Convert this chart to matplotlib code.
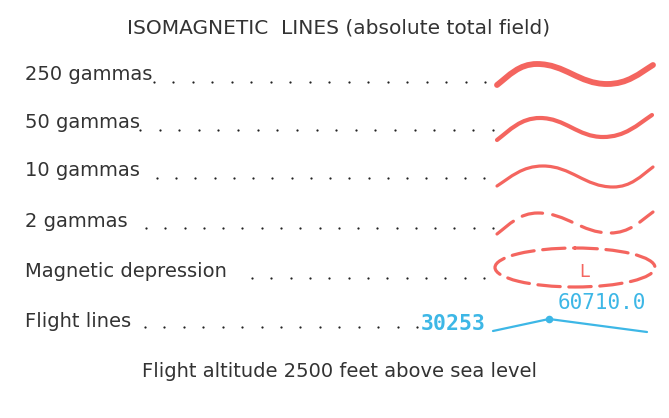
import matplotlib
matplotlib.use("Agg")
import matplotlib.pyplot as plt
import numpy as np
from matplotlib.path import Path
from matplotlib.patches import PathPatch, Ellipse

# ---- content ----
title = "ISOMAGNETIC  LINES (absolute total field)"
footer = "Flight altitude 2500 feet above sea level"
labels = ["250 gammas", "50 gammas", "10 gammas", "2 gammas",
          "Magnetic depression", "Flight lines"]
label_baselines = [80, 128, 176, 227, 277, 327]
dot_start = [154, 140, 157, 146, 252, 145]
dot_end = [485, 493, 484, 493, 484, 417]
dot_y = [82, 130, 178, 228, 278, 327]

# wave keypoints: start, peak, trough, end (x, y in pixel space)
wave_x = [[497, 537, 607, 653],
          [497, 540, 603, 652],
          [497, 543, 613, 653],
          [497, 538, 610, 653]]
wave_y = [[85, 64, 84, 65],
          [140, 118, 137, 115],
          [186, 166, 187, 167],
          [234, 213, 233, 212]]
wave_lw = [4.2, 3.0, 2.3, 2.3]
wave_dashed = [False, False, False, True]

depression_center = (575, 267.5)
depression_size = (160, 39)
depression_label = "L"

flight_x = [493, 549, 647]
flight_y = [331, 319, 332]
flight_label_left = "30253"
flight_label_right = "60710.0"

RED = "#f4655f"
BLUE = "#3db7e6"
TXT = "#333333"

fig = plt.figure(figsize=(6.69, 4.18), dpi=100)
ax = fig.add_axes([0, 0, 1, 1])
ax.set_xlim(0, 669)
ax.set_ylim(418, 0)
ax.axis("off")

ax.text(339, 33, title, ha="center", va="baseline", fontsize=14.5,
        color=TXT, family="DejaVu Sans")
ax.text(340, 377, footer, ha="center", va="baseline", fontsize=14,
        color=TXT, family="DejaVu Sans")

for lab, by in zip(labels, label_baselines):
    ax.text(25, by, lab, ha="left", va="baseline", fontsize=14,
            color=TXT, family="DejaVu Sans")

for xs, xe, y in zip(dot_start, dot_end, dot_y):
    n = int(round((xe - xs) / 19.4)) + 1
    xx = np.linspace(xs, xe, n)
    ax.scatter(xx, np.full(n, y), s=2.6, color="#222222", linewidths=0,
               zorder=3)

def wave_path(xs, ys):
    S, P, T, E = list(zip(xs, ys))
    d1 = P[0] - S[0]
    d2 = T[0] - P[0]
    d3 = E[0] - T[0]
    verts = [S,
             (S[0] + 0.3 * d1, S[1] + 0.45 * (P[1] - S[1])),
             (P[0] - 0.45 * d1, P[1]), P,
             (P[0] + 0.4 * d2, P[1]), (T[0] - 0.4 * d2, T[1]), T,
             (T[0] + 0.45 * d3, T[1]),
             (E[0] - 0.3 * d3, E[1] + 0.45 * (T[1] - E[1])), E]
    codes = [Path.MOVETO] + [Path.CURVE4] * 9
    return Path(verts, codes)

for xs, ys, lw, dashed in zip(wave_x, wave_y, wave_lw, wave_dashed):
    p = PathPatch(wave_path(xs, ys), facecolor="none", edgecolor=RED,
                  lw=lw, capstyle="round", joinstyle="round")
    if dashed:
        p.set_linestyle((0, (6.5, 3.2)))
    ax.add_patch(p)

ell = Ellipse(depression_center, depression_size[0], depression_size[1],
              facecolor="none", edgecolor=RED, lw=2.3,
              linestyle=(0, (7, 2.7)), capstyle="round")
ax.add_patch(ell)
ax.text(584, 277, depression_label, ha="center", va="baseline",
        fontsize=13, color=RED, family="DejaVu Sans")

ax.plot(flight_x, flight_y, color=BLUE, lw=1.6, solid_capstyle="round")
ax.scatter([flight_x[1]], [flight_y[1]], s=30, color=BLUE, zorder=4,
           linewidths=0)
ax.text(421, 330, flight_label_left, ha="left", va="baseline",
        fontsize=15.5, color=BLUE, family="DejaVu Sans Mono",
        fontweight="bold")
ax.text(646, 309, flight_label_right, ha="right", va="baseline",
        fontsize=15, color=BLUE, family="DejaVu Sans Mono")

fig.savefig("out.png", dpi=100, facecolor="white")
